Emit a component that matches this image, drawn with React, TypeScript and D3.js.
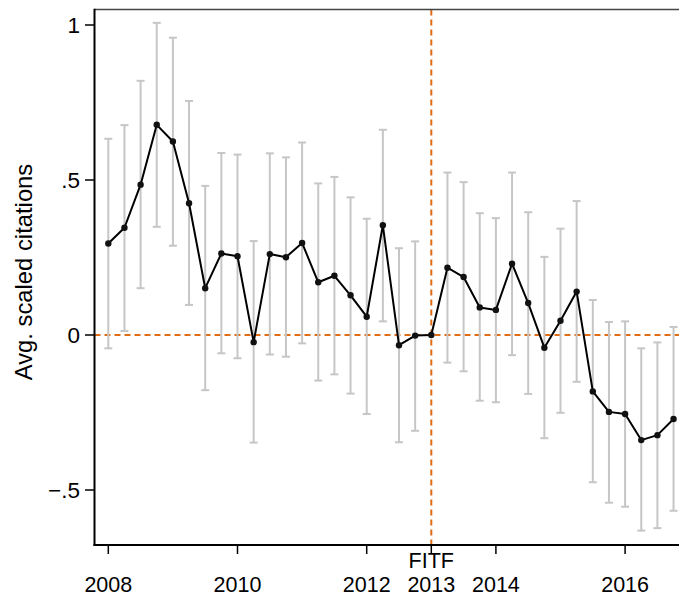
import React from "react";
import * as d3 from "d3";

const periods: number[] = [
  2008.0, 2008.25, 2008.5, 2008.75, 2009.0, 2009.25, 2009.5, 2009.75,
  2010.0, 2010.25, 2010.5, 2010.75, 2011.0, 2011.25, 2011.5, 2011.75,
  2012.0, 2012.25, 2012.5, 2012.75, 2013.0, 2013.25, 2013.5, 2013.75,
  2014.0, 2014.25, 2014.5, 2014.75, 2015.0, 2015.25, 2015.5, 2015.75,
  2016.0, 2016.25, 2016.5, 2016.75,
];
const estimates: number[] = [
  0.295, 0.346, 0.485, 0.678, 0.624, 0.425, 0.151, 0.263,
  0.254, -0.023, 0.261, 0.251, 0.297, 0.170, 0.191, 0.128,
  0.059, 0.354, -0.033, -0.002, 0.0, 0.217, 0.187, 0.089,
  0.081, 0.230, 0.103, -0.041, 0.046, 0.140, -0.182, -0.248,
  -0.255, -0.339, -0.323, -0.271,
];
const ciUpper: (number | null)[] = [
  0.633, 0.677, 0.820, 1.007, 0.959, 0.755, 0.481, 0.587,
  0.582, 0.303, 0.586, 0.573, 0.621, 0.489, 0.510, 0.444,
  0.375, 0.662, 0.280, 0.302, null, 0.524, 0.493, 0.393,
  0.377, 0.524, 0.396, 0.252, 0.343, 0.432, 0.113, 0.042,
  0.044, -0.043, -0.024, 0.026,
];
const ciLower: (number | null)[] = [
  -0.043, 0.013, 0.151, 0.349, 0.288, 0.097, -0.178, -0.059,
  -0.075, -0.347, -0.063, -0.070, -0.027, -0.147, -0.127, -0.189,
  -0.255, 0.044, -0.346, -0.309, null, -0.089, -0.117, -0.212,
  -0.217, -0.065, -0.190, -0.333, -0.251, -0.151, -0.475, -0.541,
  -0.554, -0.631, -0.623, -0.567,
];
const xTicks: number[] = [2008, 2010, 2012, 2013, 2014, 2016];
const yTicks: number[] = [1, 0.5, 0, -0.5];
const yTickLabels: string[] = ["1", ".5", "0", "\u2212.5"];
const eventYear = 2013;
const eventLabel = "FITF";
const yTitle = "Avg. scaled citations";

const W = 679;
const H = 596;
const left = 94.5;
const right = 679;
const top = 9.5;
const bottom = 545;

export default function App() {
  const x = d3.scaleLinear().domain([2008, 2016]).range([108.3, 625.1]);
  const y = d3.scaleLinear().domain([0, 1]).range([335, 25]);
  const orange = "#e06c16";
  const font = "'Liberation Sans', Arial, Helvetica, sans-serif";
  const line = d3
    .line<number>()
    .x((_, i) => x(periods[i]))
    .y((d) => y(d));

  return (
    <svg
      width={W}
      height={H}
      style={{ position: "absolute", left: 0, top: 0, background: "#fff" }}
    >
      <rect x={0} y={0} width={W} height={H} fill="#fff" />
      {/* reference lines */}
      <line
        x1={left}
        x2={right}
        y1={y(0)}
        y2={y(0)}
        stroke={orange}
        strokeWidth={2}
        strokeDasharray="6 4"
      />
      <line
        x1={x(eventYear)}
        x2={x(eventYear)}
        y1={top}
        y2={bottom}
        stroke={orange}
        strokeWidth={2}
        strokeDasharray="6 4"
      />
      {/* error bars */}
      {periods.map((p, i) => {
        const hi = ciUpper[i];
        const lo = ciLower[i];
        if (hi === null || lo === null) return null;
        const cx = x(p);
        return (
          <g key={"ci" + i} stroke="#c6c6c6" strokeWidth={2}>
            <line x1={cx} x2={cx} y1={y(hi)} y2={y(lo)} />
            <line x1={cx - 4} x2={cx + 4} y1={y(hi)} y2={y(hi)} />
            <line x1={cx - 4} x2={cx + 4} y1={y(lo)} y2={y(lo)} />
          </g>
        );
      })}
      {/* line */}
      <path
        d={line(estimates) || ""}
        fill="none"
        stroke="#000"
        strokeWidth={2}
        strokeLinejoin="round"
      />
      {periods.map((p, i) => (
        <circle key={"pt" + i} cx={x(p)} cy={y(estimates[i])} r={3.2} fill="#111" />
      ))}
      {/* frame */}
      <line x1={left} x2={right} y1={top} y2={top} stroke="#444" strokeWidth={1.5} />
      <line x1={left} x2={left} y1={top - 0.75} y2={bottom + 1} stroke="#000" strokeWidth={2} />
      <line x1={left - 1} x2={right} y1={bottom} y2={bottom} stroke="#000" strokeWidth={2} />
      {/* y axis */}
      {yTicks.map((t, i) => (
        <g key={"yt" + i}>
          <line x1={left - 9.5} x2={left} y1={y(t)} y2={y(t)} stroke="#000" strokeWidth={1.5} />
          <text
            x={80}
            y={y(t) + 8}
            textAnchor="end"
            fontFamily={font}
            fontSize={22.5}
            fill="#000"
          >
            {yTickLabels[i]}
          </text>
        </g>
      ))}
      <text
        transform={`translate(31.5,${272}) rotate(-90)`}
        textAnchor="middle"
        fontFamily={font}
        fontSize={23.8}
        fill="#000"
      >
        {yTitle}
      </text>
      {/* x axis */}
      {xTicks.map((t) => (
        <g key={"xt" + t}>
          <line x1={x(t)} x2={x(t)} y1={bottom} y2={bottom + 9} stroke="#000" strokeWidth={1.5} />
          <text
            x={x(t)}
            y={591.5}
            textAnchor="middle"
            fontFamily={font}
            fontSize={21.5}
            fill="#000"
          >
            {t}
          </text>
        </g>
      ))}
      <text
        x={x(eventYear)}
        y={567.5}
        textAnchor="middle"
        fontFamily={font}
        fontSize={21.5}
        fill="#000"
      >
        {eventLabel}
      </text>
    </svg>
  );
}
